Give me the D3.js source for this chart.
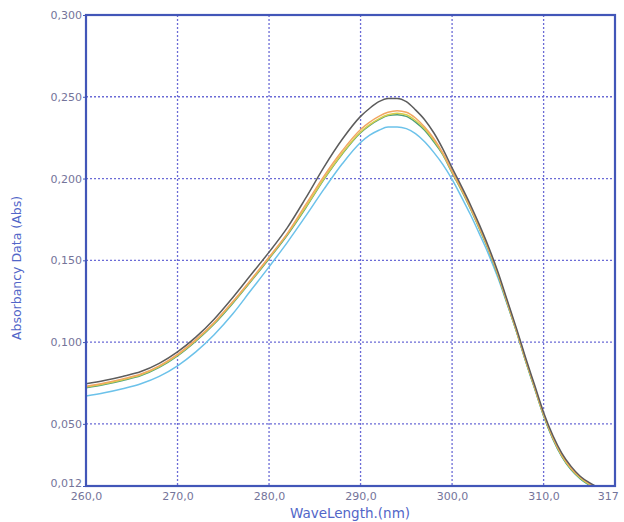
<!DOCTYPE html>
<html>
<head>
<meta charset="utf-8">
<script src="https://cdn.jsdelivr.net/npm/d3@7"></script>
<style>
    body { margin: 0; background: #ffffff; }
    svg { display: block; }
</style>
</head>
<body>
<div id="chart"></div>
<script>
// wavelengths (nm) the spectra were read at
var waveLength = [260,262,264,266,268,270,272,274,276,278,280,282,284,286,288,
    290,291,292,293,294,295,296,297,298,299,300,301,302,303,304,305,306,307,308,
    309,310,311,312,313,314,315,316];

// absorbance of each scan
var scanGray = [0.0745,0.0765,0.079,0.082,0.087,0.094,0.103,0.114,0.127,0.141,0.155,0.170,0.188,0.207,0.224,
    0.238,0.243,0.247,0.249,0.249,0.247,0.242,0.236,0.228,0.218,0.2065,0.1955,0.184,0.1715,0.158,0.143,0.126,0.109,0.091,
    0.074,0.057,0.043,0.032,0.024,0.018,0.014,0.011];
var scanOrange = [0.073,0.075,0.0775,0.0805,0.0855,0.0925,0.1015,0.112,0.1245,0.138,0.152,0.1665,0.184,0.2015,0.217,
    0.230,0.2345,0.238,0.2405,0.2415,0.2405,0.237,0.2315,0.2245,0.2155,0.2045,0.194,0.1825,0.170,0.157,0.142,0.125,0.108,0.090,
    0.073,0.056,0.042,0.031,0.023,0.0175,0.0135,0.0105];
var scanYellow = [0.0725,0.0745,0.077,0.080,0.085,0.092,0.101,0.1115,0.124,0.1375,0.1515,0.166,0.1825,0.200,0.2155,
    0.2285,0.233,0.2365,0.239,0.240,0.239,0.2355,0.2305,0.2235,0.215,0.204,0.1935,0.182,0.1695,0.1565,0.1415,0.1245,0.1075,0.0895,
    0.0725,0.0555,0.0415,0.0305,0.0225,0.017,0.013,0.010];
var scanGreen = [0.072,0.074,0.0765,0.0795,0.0845,0.0915,0.1005,0.111,0.1235,0.137,0.151,0.1655,0.182,0.1995,0.215,
    0.228,0.2325,0.236,0.2385,0.239,0.238,0.2345,0.2295,0.2225,0.2145,0.2035,0.193,0.1815,0.169,0.156,0.141,0.124,0.107,0.089,
    0.072,0.055,0.041,0.030,0.022,0.0165,0.0125,0.0095];
var scanBlue = [0.067,0.069,0.0715,0.0745,0.079,0.0855,0.094,0.1045,0.117,0.1315,0.146,0.161,0.177,0.1935,0.209,
    0.222,0.2265,0.2295,0.2315,0.2315,0.2305,0.2275,0.2225,0.216,0.2085,0.1995,0.189,0.178,0.166,0.1535,0.1395,0.1235,0.107,0.089,
    0.072,0.055,0.041,0.030,0.022,0.0165,0.0125,0.0095];

// tick labels
var xTicks = [260,270,280,290,300,310];
var xEndTick = 317;
var yTicks = [0.012,0.050,0.100,0.150,0.200,0.250,0.300];

// svg container
var svgWidth = 624;
var svgHeight = 522;
var margin = {
    top: 15,
    right: 9,
    bottom: 36,
    left: 86
}
var chartWidth = svgWidth - margin.left - margin.right;
var chartHeight = svgHeight - margin.top - margin.bottom;

var svg = d3.select("#chart").append("svg")
    .attr("width", svgWidth)
    .attr("height", svgHeight)

var chartGroup = svg.append("g")
    .attr("transform", `translate(${margin.left}, ${margin.top})`)

// scales
var xScale = d3.scaleLinear()
    .domain([260, 317.8])
    .range([0, chartWidth]);
var yScale = d3.scaleLinear()
    .domain([0.012, 0.300])
    .range([chartHeight, 0]);

var fmtY = v => d3.format(".3f")(v).replace(".", ",");
var fmtX = v => d3.format(".1f")(v).replace(".", ",");

var gridColor = "#6b6bd6";
var frameColor = "#4256b8";
var labelColor = "#74749a";

// dotted grid
chartGroup.append("g")
    .selectAll("line")
    .data(xTicks.slice(1))
    .enter()
    .append("line")
    .attr("x1", d => xScale(d))
    .attr("x2", d => xScale(d))
    .attr("y1", 0)
    .attr("y2", chartHeight)
    .attr("stroke", gridColor)
    .attr("stroke-width", 1.3)
    .attr("stroke-dasharray", "2,2");

chartGroup.append("g")
    .selectAll("line")
    .data(yTicks.slice(1, -1))
    .enter()
    .append("line")
    .attr("x1", 0)
    .attr("x2", chartWidth)
    .attr("y1", d => yScale(d))
    .attr("y2", d => yScale(d))
    .attr("stroke", gridColor)
    .attr("stroke-width", 1.3)
    .attr("stroke-dasharray", "2,2");

// spectra
var scans = [
    {values: scanBlue, color: "#6cc2ea"},
    {values: scanGreen, color: "#4f9f78"},
    {values: scanYellow, color: "#d6cf4c"},
    {values: scanOrange, color: "#f2a662"},
    {values: scanGray, color: "#5c5c5c"}
];

chartGroup.append("clipPath")
    .attr("id", "plotclip")
    .append("rect")
    .attr("width", chartWidth)
    .attr("height", chartHeight);

var line = d3.line()
    .x((d, i) => xScale(waveLength[i]))
    .y(d => yScale(d))
    .curve(d3.curveMonotoneX);

chartGroup.append("g")
    .attr("clip-path", "url(#plotclip)")
    .selectAll("path")
    .data(scans)
    .enter()
    .append("path")
    .attr("d", d => line(d.values))
    .attr("fill", "none")
    .attr("stroke", d => d.color)
    .attr("stroke-width", 1.5);

// frame
chartGroup.append("rect")
    .attr("width", chartWidth)
    .attr("height", chartHeight)
    .attr("fill", "none")
    .attr("stroke", frameColor)
    .attr("stroke-width", 2.2);

// axes
var xAxis = d3.axisBottom(xScale)
    .tickValues(xTicks.concat([xEndTick]))
    .tickFormat(d => d == xEndTick ? String(d) : fmtX(d))
    .tickSize(0)
    .tickPadding(6);
var yAxis = d3.axisLeft(yScale)
    .tickValues(yTicks)
    .tickFormat(fmtY)
    .tickSize(3)
    .tickPadding(1);

var xg = chartGroup.append("g")
    .attr("transform", `translate(0, ${chartHeight})`)
    .call(xAxis);
var yg = chartGroup.append("g")
    .call(yAxis);

[xg, yg].forEach(g => {
    g.select(".domain").remove();
    g.selectAll("line").attr("stroke", frameColor);
    g.selectAll("text")
        .attr("fill", labelColor)
        .style("font-family", "DejaVu Sans, Verdana, sans-serif")
        .style("font-size", "11px");
});
yg.selectAll(".tick")
    .filter(d => d == 0.012)
    .select("text")
    .attr("dy", "0.05em");

// axis titles
svg.append("text")
    .attr("x", 350)
    .attr("y", 518)
    .attr("text-anchor", "middle")
    .attr("fill", "#5266c8")
    .style("font-family", "DejaVu Sans, Verdana, sans-serif")
    .style("font-size", "13.5px")
    .text("WaveLength.(nm)");

svg.append("text")
    .attr("transform", "translate(21, 268) rotate(-90)")
    .attr("text-anchor", "middle")
    .attr("fill", "#5266c8")
    .style("font-family", "DejaVu Sans, Verdana, sans-serif")
    .style("font-size", "12.5px")
    .text("Absorbancy Data (Abs)");
</script>
</body>
</html>
